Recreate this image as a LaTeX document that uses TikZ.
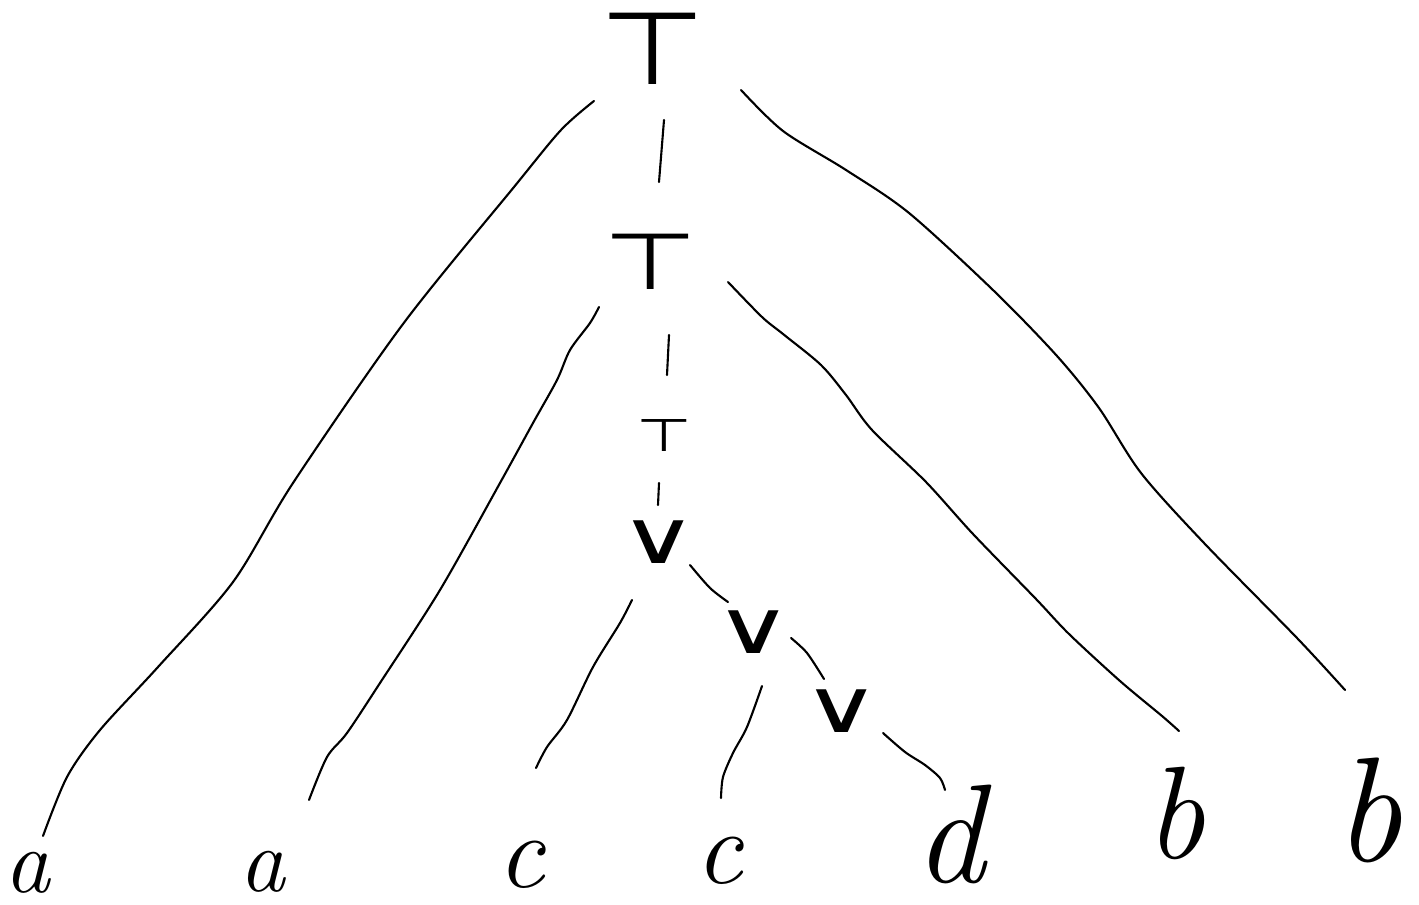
\documentclass[tikz,border=0pt]{standalone}
\usepackage{graphicx}
\usepackage{fontspec}
\newfontfamily\symfont{DejaVu Sans}
\newcommand{\fsz}[1]{\fontsize{#1}{#1}\selectfont}
\begin{document}
\begin{tikzpicture}[x=0.02cm,y=-0.02cm,
  conn/.style={line width=1.2pt, line cap=round, line join=round},
  opnode/.style={inner sep=2pt, font=\symfont\fsz{#1}},
  leaf/.style={inner sep=2pt, font=\itshape\fsz{#1}}]
\useasboundingbox (0,0) rectangle (1419,905);
% operator nodes
\node[opnode=58] (T1) at (653,49) {\scalebox{1.2}[1]{⊤}};
\node[opnode=45] (T2) at (651,262) {\scalebox{1.37}[1]{⊤}};
\node[opnode=26] (T3) at (664,436) {\scalebox{1.4}[1]{⊤}};
\node[opnode=42] (V1) at (659,542) {\scalebox{1.45}[1]{∨}};
\node[opnode=42] (V2) at (754,632) {\scalebox{1.45}[1]{∨}};
\node[opnode=42] (V3) at (842,711) {\scalebox{1.45}[1]{∨}};
% leaves
\node[leaf=52] (a1) at (27,873) {a};
\node[leaf=52] (a2) at (262,872) {a};
\node[leaf=60] (c1) at (521,865) {c};
\node[leaf=60] (c2) at (719,861) {c};
\node[leaf=80] (d) at (950,834) {d};
\node[leaf=75] (b1) at (1175,813) {b};
\node[leaf=85] (b2) at (1368,810) {b};
% connectors
\draw[conn] plot[smooth] coordinates {([shift={(-59,52)}]T1.center) (561,130) (514,187) (403,324) (293,483) (233,582) (158,667) (100,730) (67,777) ([shift={(16,-37)}]a1.center)};
\draw[conn] ([shift={(11,71)}]T1.center) -- ([shift={(8,-80)}]T2.center);
\draw[conn] plot[smooth] coordinates {([shift={(88,41)}]T1.center) (783,131) (846,170) (909,213) (994,291) (1057,356) (1099,408) (1141,473) (1204,543) (1297,638) ([shift={(-23,-120)}]b2.center)};
\draw[conn] plot[smooth] coordinates {([shift={(-52,45)}]T2.center) (590,323) (570,350) (557,380) (533,423) (500,483) (440,590) (380,683) (347,733) (327,757) ([shift={(47,-72)}]a2.center)};
\draw[conn] ([shift={(18,73)}]T2.center) -- ([shift={(3,-61)}]T3.center);
\draw[conn] plot[smooth] coordinates {([shift={(77,20)}]T2.center) (762,317) (783,334) (821,365) (846,395) (872,430) (926,482) (973,534) (1036,599) (1069,634) (1120,681) (1162,716) ([shift={(4,-82)}]b1.center)};
\draw[conn] ([shift={(-5,47)}]T3.center) -- ([shift={(-1,-37)}]V1.center);
\draw[conn] plot[smooth] coordinates {([shift={(-27,58)}]V1.center) (620,623) (593,667) (567,720) (547,747) ([shift={(15,-97)}]c1.center)};
\draw[conn] plot[smooth] coordinates {([shift={(31,23)}]V1.center) (710,588) ([shift={(-26,-30)}]V2.center)};
\draw[conn] plot[smooth] coordinates {([shift={(8,54)}]V2.center) (747,727) (733,753) (723,777) ([shift={(2,-63)}]c2.center)};
\draw[conn] plot[smooth] coordinates {([shift={(37,6)}]V2.center) (807,653) ([shift={(-18,-32)}]V3.center)};
\draw[conn] plot[smooth] coordinates {([shift={(41,22)}]V3.center) (905,752) (925,765) (940,778) ([shift={(-5,-44)}]d.center)};
\end{tikzpicture}
\end{document}
